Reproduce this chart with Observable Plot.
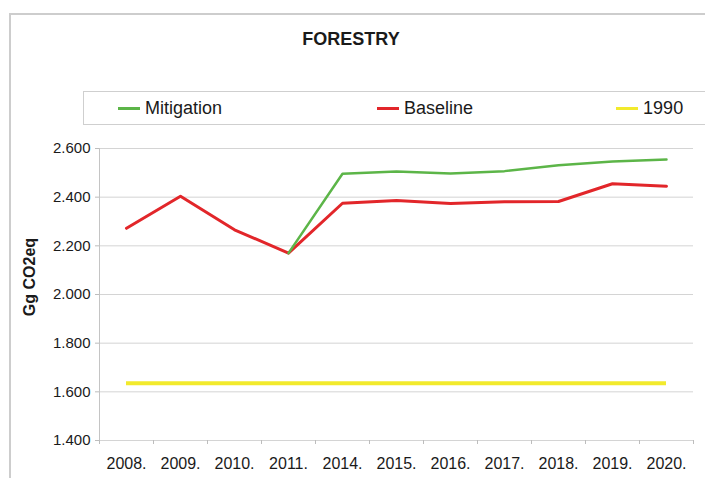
<!DOCTYPE html>
<html><head><meta charset="utf-8">
<script src="https://cdn.jsdelivr.net/npm/d3@7"></script>
<script src="https://cdn.jsdelivr.net/npm/@observablehq/plot@0.6"></script>
<style>
body{margin:0;background:#fff;font-family:"Liberation Sans",Arial,sans-serif;color:#1a1a1a;}
#wrap{position:relative;width:705px;height:478px;overflow:hidden;}
#frame{position:absolute;left:9px;top:13px;width:800px;height:600px;border-top:2px solid #cdcdcd;border-left:2px solid #cdcdcd;}
#title{position:absolute;left:0;top:28px;width:702px;text-align:center;font-weight:bold;font-size:18px;line-height:22px;}
#legend{position:absolute;left:83px;top:91px;width:700px;height:34px;box-sizing:border-box;border:1px solid #cfcfcf;display:flex;align-items:center;padding-left:34px;}
.item{display:flex;align-items:center;font-size:18px;}
.item:nth-child(2){margin-left:155px;}
.item:nth-child(3){margin-left:143px;}
.sw{width:22px;height:3px;margin-right:5px;}
#ylabel{position:absolute;left:-30px;top:268px;width:120px;text-align:center;font-weight:bold;font-size:16px;line-height:18px;transform:rotate(-90deg);}
#chart{position:absolute;left:0;top:130px;}
</style>
</head>
<body>
<div id="wrap">
  <div id="frame"></div>
  <div id="title"></div>
  <div id="legend"></div>
  <div id="ylabel"></div>
  <div id="chart"></div>
</div>
<script>
const titleText = "FORESTRY";
const yAxisLabel = "Gg CO2eq";
const categories = ["2008.","2009.","2010.","2011.","2014.","2015.","2016.","2017.","2018.","2019.","2020."];
const baseline   = [2272, 2404, 2266, 2170, 2375, 2386, 2374, 2381, 2382, 2455, 2445];
const mitigation = [null, null, null, 2170, 2496, 2505, 2497, 2507, 2531, 2547, 2555];
const value1990 = 1635;
const yTicks = [1400, 1600, 1800, 2000, 2200, 2400, 2600];
const yTickLabels = ["1.400", "1.600", "1.800", "2.000", "2.200", "2.400", "2.600"];
const seriesNames = ["Mitigation", "Baseline", "1990"];
const seriesColors = ["#5cb548", "#e2262a", "#f2ea2c"];

document.getElementById("title").textContent = titleText;
document.getElementById("ylabel").textContent = yAxisLabel;
const legend = document.getElementById("legend");
seriesNames.forEach((name, i) => {
  const item = document.createElement("div");
  item.className = "item";
  const sw = document.createElement("span");
  sw.className = "sw";
  sw.style.background = seriesColors[i];
  const t = document.createElement("span");
  t.textContent = name;
  item.appendChild(sw); item.appendChild(t);
  legend.appendChild(item);
});

const W = 705, H = 348, mL = 99, mR = 12, mT = 18, mB = 38;
const step = (W - mL - mR) / categories.length;
const rows = categories.map((c, i) => ({c, b: baseline[i], m: mitigation[i]}));
const first = categories[0];
const last = categories[categories.length - 1];

const chart = Plot.plot({
  width: W, height: H,
  marginLeft: mL, marginRight: mR, marginTop: mT, marginBottom: mB,
  style: {background: "transparent", fontFamily: "Liberation Sans, Arial, sans-serif", fontSize: "15px", color: "#1a1a1a", overflow: "visible"},
  x: {type: "point", domain: categories, padding: 0.5, label: null},
  y: {domain: [yTicks[0], yTicks[yTicks.length - 1]], label: null},
  marks: [
    Plot.gridY(yTicks, {stroke: "#d4d4d4", strokeOpacity: 1}),
    Plot.ruleX([first], {x: d => d, dx: -step / 2, stroke: "#c4c4c4"}),
    Plot.ruleX(categories, {x: d => d, y1: yTicks[0], y2: yTicks[0], insetBottom: -4, dx: -step / 2, stroke: "#bdbdbd"}),
    Plot.ruleX([last], {x: d => d, y1: yTicks[0], y2: yTicks[0], insetBottom: -4, dx: step / 2, stroke: "#bdbdbd"}),
    Plot.axisY(yTicks, {tickSize: 4, tickPadding: 5, tickFormat: d => yTickLabels[yTicks.indexOf(d)], stroke: "#bdbdbd", fill: "#1a1a1a", fontSize: 15, label: null}),
    Plot.axisX(categories, {tickSize: 0, tickPadding: 17, fontSize: 16, fill: "#1a1a1a", label: null}),
    Plot.ruleY([value1990], {y: d => d, x1: () => first, x2: () => last, stroke: seriesColors[2], strokeWidth: 4}),
    Plot.line(rows, {x: "c", y: "b", stroke: seriesColors[1], strokeWidth: 3}),
    Plot.line(rows, {x: "c", y: "m", stroke: seriesColors[0], strokeWidth: 2.5})
  ]
});
document.getElementById("chart").appendChild(chart);
</script>
</body></html>
